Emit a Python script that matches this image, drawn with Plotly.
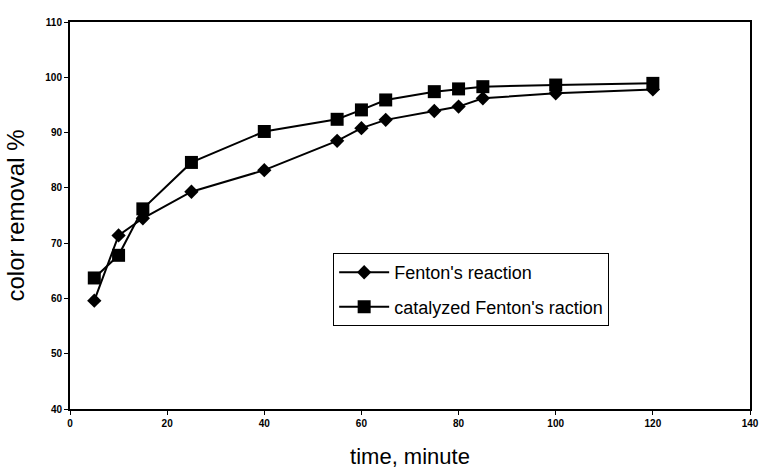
import plotly.graph_objects as go

time_fenton = [5, 10, 15, 25, 40, 55, 60, 65, 75, 80, 85, 100, 120]
removal_fenton = [59.6, 71.4, 74.5, 79.3, 83.2, 88.5, 90.8, 92.3, 93.9, 94.7, 96.2, 97.1, 97.8]

time_cat = [5, 10, 15, 25, 40, 55, 60, 65, 75, 80, 85, 100, 120]
removal_cat = [63.7, 67.8, 76.2, 84.6, 90.2, 92.4, 94.1, 95.9, 97.4, 97.9, 98.3, 98.6, 98.9]

x_ticks = [0, 20, 40, 60, 80, 100, 120, 140]
y_ticks = [40, 50, 60, 70, 80, 90, 100, 110]

fig = go.Figure()
fig.add_trace(go.Scatter(
    x=time_fenton, y=removal_fenton, mode="lines+markers",
    name="Fenton's reaction", legendgroup="a",
    line=dict(color="black", width=2),
    marker=dict(symbol="diamond", size=11, color="black"),
))
fig.add_trace(go.Scatter(
    x=time_cat, y=removal_cat, mode="lines+markers",
    name="catalyzed Fenton's raction", legendgroup="b",
    line=dict(color="black", width=2),
    marker=dict(symbol="square", size=13, color="black"),
))

fig.update_layout(
    width=763, height=469,
    margin=dict(l=70, r=13, t=22, b=60, autoexpand=False),
    paper_bgcolor="white", plot_bgcolor="white",
    font=dict(family="Liberation Sans, Arial", color="black"),
    showlegend=True,
    legend=dict(
        x=0.387, y=0.403, xanchor="left", yanchor="top",
        bordercolor="black", borderwidth=1, bgcolor="white",
        font=dict(size=18, family="Liberation Sans, Arial"),
        tracegroupgap=8, itemwidth=50,
    ),
    xaxis=dict(
        range=[0, 140], tickvals=x_ticks, ticktext=[str(v) for v in x_ticks],
        showline=True, linecolor="black", linewidth=2, mirror=True,
        ticks="outside", ticklen=4, tickcolor="black",
        showgrid=False, zeroline=False, automargin=False,
        tickfont=dict(size=10, family="Liberation Sans, Arial", weight="bold"),
        title=dict(text="time, minute", font=dict(size=22), standoff=22),
    ),
    yaxis=dict(
        range=[40, 110], tickvals=y_ticks, ticktext=[str(v) for v in y_ticks],
        showline=True, linecolor="black", linewidth=2, mirror=True,
        ticks="outside", ticklen=4, tickcolor="black",
        showgrid=False, zeroline=False, automargin=False,
        tickfont=dict(size=10, family="Liberation Sans, Arial", weight="bold"),
        title=dict(text="color removal %", font=dict(size=24), standoff=14),
    ),
)

fig.write_html("out.html")
